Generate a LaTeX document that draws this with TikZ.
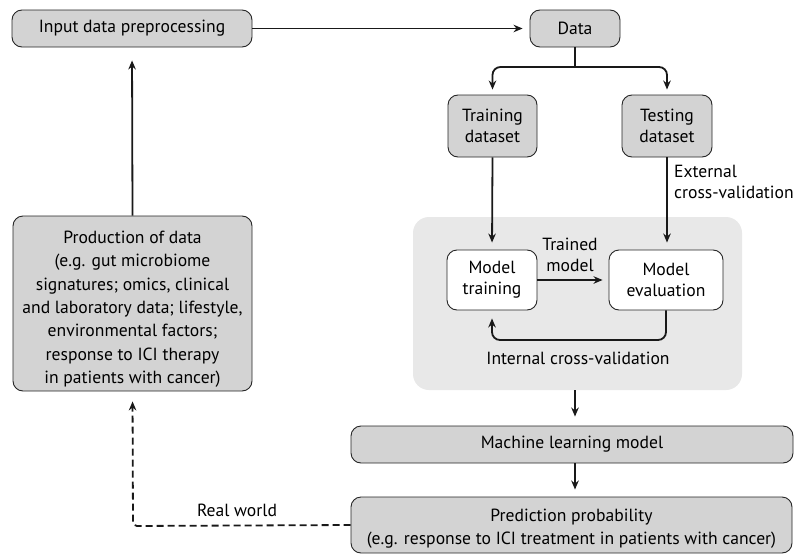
\documentclass[tikz,border=0pt]{standalone}
\usepackage{fontspec}
\setmainfont{PT Sans}
\usetikzlibrary{arrows.meta}
\definecolor{boxgray}{HTML}{D3D3D3}
\definecolor{bggray}{HTML}{E8E8E8}
\tikzset{
  gbox/.style={draw=black!85, line width=0.9pt, rounded corners=10pt, fill=boxgray,
    align=center, inner sep=0pt, font=\fontsize{17.6}{21}\selectfont},
  wbox/.style={gbox, fill=white},
  arr/.style={line width=1.8pt, -{Stealth[length=9pt,width=7.5pt]}, black!90},
  lbl/.style={font=\fontsize{17.6}{21}\selectfont, align=center, inner sep=0pt},
}
\begin{document}
\begin{tikzpicture}[x=1pt,y=-1pt]
\useasboundingbox (0,0) rectangle (795,554);
\fill[white] (0,0) rectangle (795,554);
% background region
\node[fill=bggray, rounded corners=16pt, minimum width=329pt, minimum height=173pt, inner sep=0pt] (bg) at (577.5,303.5) {};
% boxes
\node[gbox, minimum width=240pt, minimum height=37pt] (inp) at (132,28.5) {Input data preprocessing};
\node[gbox, minimum width=90pt, minimum height=37pt] (data) at (575,28.5) {Data};
\node[gbox, minimum width=89pt, minimum height=62pt] (train) at (492.5,126) {Training\\dataset};
\node[gbox, minimum width=90pt, minimum height=62pt] (test) at (667,126) {Testing\\dataset};
\node[wbox, minimum width=90pt, minimum height=60pt] (mtrain) at (492,280) {Model\\training};
\node[wbox, minimum width=114pt, minimum height=60pt] (meval) at (666,280) {Model\\evaluation};
\node[gbox, minimum width=442pt, minimum height=37pt] (ml) at (572,444.5) {Machine learning model};
\node[gbox, minimum width=441pt, minimum height=56pt, font=\fontsize{17.6}{23}\selectfont] (pred) at (571.5,525) {\rule{0pt}{20pt}Prediction probability\\(e.g. response to ICI treatment in patients with cancer)};
\node[gbox, minimum width=239pt, minimum height=175pt, font=\fontsize{17.6}{23.3}\selectfont] (prod) at (132.5,303.5) {\rule{0pt}{24pt}Production of data\\(e.g. gut microbiome\\signatures; omics, clinical\\and laboratory data; lifestyle,\\environmental factors;\\response to ICI therapy\\in patients with cancer)};
% labels
\node[lbl, anchor=west, align=left] (ext) at (674,182) {External\\cross-validation};
\node[lbl] (trained) at (570,255) {Trained\\model};
\node[lbl] (internal) at (578,358) {Internal cross-validation};
\node[lbl] (real) at (237,510) {Real world};
% coordinates
\coordinate (split) at (575,67);
\coordinate (loopr) at (666,340);
\coordinate (rwc) at (133,526);
% connectors
\draw[arr, shorten >=7pt] (inp.east) -- (data.west);
\draw[arr, shorten >=13pt] (prod.north) -- (inp.south);
\draw[line width=1.8pt, black!90] (data.south) -- (split);
\draw[arr, rounded corners=8pt, shorten >=5pt] (split) -| (train.north);
\draw[arr, rounded corners=8pt, shorten >=5pt] (split) -| (test.north);
\draw[arr, shorten >=7pt] (train.south) -- (mtrain.north);
\draw[arr, shorten >=7pt] (test.south) -- (test.south |- meval.north);
\draw[arr, shorten >=6pt] (mtrain.east) -- (meval.west);
\draw[arr, rounded corners=8pt, shorten >=8pt] (meval.south) -- (loopr) -| (mtrain.south);
\draw[arr, shorten >=9pt] (bg.south -| 575,0) -- (ml.north -| 575,0);
\draw[arr, shorten >=7pt] (ml.south -| 575,0) -- (pred.north -| 575,0);
\draw[arr, dash pattern=on 7pt off 4pt, rounded corners=4pt, shorten >=10pt] (pred.west) -- (rwc) -- (prod.south);
\end{tikzpicture}
\end{document}
